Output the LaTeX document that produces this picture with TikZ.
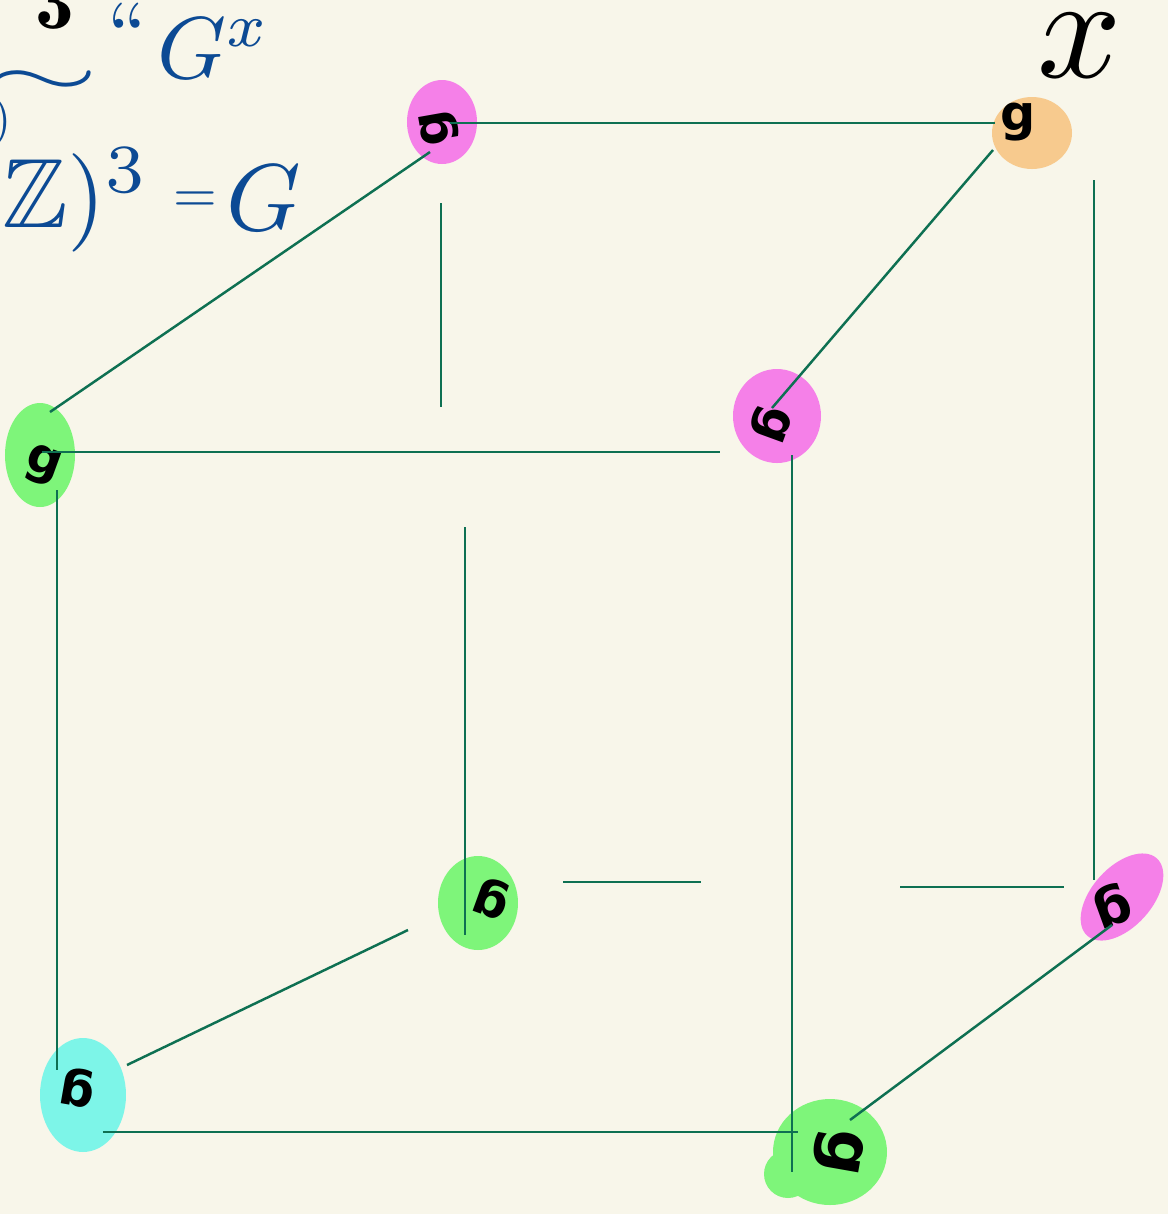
\documentclass[tikz,border=0pt]{standalone}
\usepackage{fontspec}
\usepackage{amssymb}
\newfontfamily\gfont{DejaVu Sans}[BoldFont={DejaVu Sans Bold}]
\definecolor{paper}{RGB}{248,246,234}
\definecolor{edgegreen}{RGB}{14,112,82}
\definecolor{inkblue}{RGB}{12,74,148}
\definecolor{blobpink}{RGB}{245,128,232}
\definecolor{bloborange}{RGB}{247,202,142}
\definecolor{blobgreen}{RGB}{126,245,122}
\definecolor{blobcyan}{RGB}{125,245,232}
\tikzset{
  edge/.style={draw=edgegreen, line width=0.7pt},
  glyph/.style={font=\gfont\bfseries\fontsize{#1}{#1}\selectfont, inner sep=0pt},
  glyph/.default=14,
  ink/.style={text=inkblue, inner sep=0pt},
}
\begin{document}
\begin{tikzpicture}
  \useasboundingbox (0,0) rectangle (11.68,-12.14);
  \fill[paper] (0,0) rectangle (11.68,-12.14);
  % notes in the corner
  \node[inner sep=0pt, scale=2.2] (sub) at (0.55,-0.04) {$\mathbf{3}$};
  \node[ink, xscale=4.2, yscale=2.0] (wave) at (0.42,-0.84) {$\sim$};
  \node[ink, scale=2.4] (quote) at (1.27,-0.32) {``};
  \node[ink, scale=2.5] (gx) at (2.14,-0.48) {$G^x$};
  \node[ink, scale=1.4] (paren) at (0.02,-1.22) {$)$};
  \node[ink, scale=2.8, anchor=east] (zz) at (1.52,-2.00) {$(\mathbb{Z}/2\mathbb{Z})^3$};
  \node[ink, scale=1.6] (eq) at (1.95,-2.02) {$=$};
  \node[ink, scale=2.7] (gg) at (2.64,-1.98) {$G$};
  \node[inner sep=0pt, scale=4.2] (xlab) at (10.80,-0.46) {$x$};
  % colour blobs
  \fill[blobpink] (4.42,-1.22) ellipse (0.35 and 0.42);
  \fill[bloborange] (10.32,-1.33) ellipse (0.40 and 0.36);
  \fill[blobgreen] (0.40,-4.55) ellipse (0.35 and 0.52);
  \fill[blobgreen] (0.40,-4.90) circle (0.16);
  \fill[blobpink] (7.77,-4.16) ellipse (0.44 and 0.47);
  \fill[blobgreen] (4.78,-9.03) ellipse (0.40 and 0.47);
  \fill[blobpink, rotate around={48:(11.22,-8.97)}] (11.22,-8.97) ellipse (0.52 and 0.30);
  \fill[blobcyan] (0.83,-10.95) ellipse (0.43 and 0.57);
  \fill[blobgreen] (8.30,-11.52) ellipse (0.57 and 0.53);
  \fill[blobgreen] (7.88,-11.74) circle (0.24);
  % letters on the vertices
  \node[glyph, rotate=100] (vA) at (4.39,-1.28) {g};
  \node[glyph] (vB) at (10.18,-1.22) {g};
  \node[glyph, rotate=-20] (vC) at (0.43,-4.66) {g};
  \node[glyph, rotate=-110] (vD) at (7.70,-4.24) {g};
  \node[glyph, rotate=160] (vE) at (4.92,-8.98) {g};
  \node[glyph=15, rotate=200] (vF) at (11.12,-9.05) {g};
  \node[glyph, rotate=170] (vG) at (0.78,-10.88) {g};
  \node[glyph=18, rotate=-100] (vH) at (8.38,-11.52) {g};
  % edge ends
  \coordinate (a1) at (4.50,-1.23);  \coordinate (b1) at (9.95,-1.23);
  \coordinate (a2) at (4.30,-1.52);  \coordinate (c2) at (0.50,-4.12);
  \coordinate (b3) at (9.93,-1.50);  \coordinate (d3) at (7.72,-4.08);
  \coordinate (c4) at (0.42,-4.52);  \coordinate (d4) at (7.20,-4.52);
  \coordinate (h5) at (4.41,-2.03);  \coordinate (h6) at (4.41,-4.07);
  \coordinate (b7) at (10.94,-1.80); \coordinate (f7) at (10.94,-8.80);
  \coordinate (c8) at (0.57,-4.90);  \coordinate (g8) at (0.57,-10.70);
  \coordinate (d9) at (7.92,-4.55);  \coordinate (h9) at (7.92,-11.72);
  \coordinate (m1) at (4.65,-5.27);  \coordinate (e1) at (4.65,-9.35);
  \coordinate (n1) at (5.63,-8.82);  \coordinate (n2) at (7.01,-8.82);
  \coordinate (n3) at (9.00,-8.87);  \coordinate (f3) at (10.64,-8.87);
  \coordinate (g4) at (1.27,-10.65); \coordinate (e4) at (4.08,-9.30);
  \coordinate (g5) at (1.03,-11.32); \coordinate (h5b) at (7.98,-11.32);
  \coordinate (h6b) at (8.50,-11.20); \coordinate (f6) at (11.12,-9.25);
  % top face
  \draw[edge] (a1) -- (b1);
  \draw[edge] (a2) -- (c2);
  \draw[edge] (b3) -- (d3);
  \draw[edge] (c4) -- (d4);
  % upright edges
  \draw[edge] (h5) -- (h6);
  \draw[edge] (b7) -- (f7);
  \draw[edge] (c8) -- (g8);
  \draw[edge] (d9) -- (h9);
  \draw[edge] (m1) -- (e1);
  % bottom face
  \draw[edge] (n1) -- (n2);
  \draw[edge] (n3) -- (f3);
  \draw[edge] (g4) -- (e4);
  \draw[edge] (g5) -- (h5b);
  \draw[edge] (h6b) -- (f6);
\end{tikzpicture}
\end{document}
